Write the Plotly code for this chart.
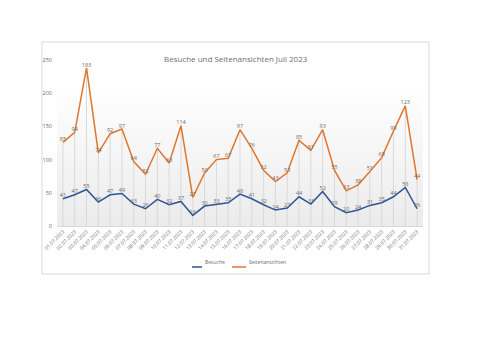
import plotly.graph_objects as go

dates = ["%02d.07.2023" % d for d in range(1, 32)]
besuche = [41, 47, 55, 36, 47, 49, 33, 26, 40, 32, 37, 16, 30, 33, 35, 48,
           41, 32, 24, 27, 44, 33, 52, 29, 20, 24, 31, 35, 44, 58, 26]
seitenansichten = [85, 94, 183, 74, 92, 97, 64, 52, 77, 63, 114, 27, 50, 67, 67, 97,
                   76, 52, 43, 53, 85, 81, 93, 55, 33, 38, 51, 68, 99, 123, 44]
yticks = [0, 50, 100, 150, 200, 250]

W, H = 500, 353
BLUE = "#2F5597"
ORANGE = "#E0762B"
GREY = "#6B6B6B"

x = list(range(1, len(dates) + 1))
totals = [a + b for a, b in zip(besuche, seitenansichten)]

def px(v):
    return v / W

def py(v):
    return 1 - v / H

fig = go.Figure()

# gradient background of plot area
fig.add_trace(go.Scatter(
    x=[0.5, len(dates) + 0.5], y=[yticks[-1], yticks[-1]], mode="lines",
    line=dict(width=0), fill="tozeroy",
    fillgradient=dict(type="vertical",
                      colorscale=[[0, "#EBEBEB"], [0.85, "#FFFFFF"], [1, "#FFFFFF"]]),
    hoverinfo="skip", showlegend=False))

# drop lines
dx, dy = [], []
for xi, t in zip(x, totals):
    dx += [xi, xi, None]
    dy += [0, t, None]
fig.add_trace(go.Scatter(x=dx, y=dy, mode="lines", line=dict(color="#D9D9D9", width=1),
                         hoverinfo="skip", showlegend=False))

fig.add_trace(go.Scatter(
    x=x, y=besuche, name="Besuche", stackgroup="one", fill="none",
    mode="lines+text", line=dict(color=BLUE, width=1.5),
    text=[str(v) for v in besuche], textposition="top center",
    textfont=dict(size=5.5, color=GREY, family="Open Sans")))
fig.add_trace(go.Scatter(
    x=x, y=seitenansichten, name="Seitenansichten", stackgroup="one", fill="none",
    mode="lines+text", line=dict(color=ORANGE, width=1.5),
    text=[str(v) for v in seitenansichten], textposition="top center",
    textfont=dict(size=5.5, color=GREY, family="Open Sans")))

fig.update_layout(
    width=W, height=H, margin=dict(l=0, r=0, t=0, b=0),
    paper_bgcolor="white", plot_bgcolor="white", showlegend=False,
    font=dict(family="Open Sans", color=GREY),
    xaxis=dict(domain=[px(57), px(423)], range=[0.5, len(dates) + 0.5],
               tickvals=x, ticktext=dates, tickangle=-45, showgrid=False,
               zeroline=False, showline=True, linecolor="#D9D9D9", linewidth=1,
               ticks="", tickfont=dict(size=5, color=GREY), automargin=False),
    yaxis=dict(domain=[py(226), py(60)], range=[0, yticks[-1]], tickvals=yticks,
               showgrid=False, zeroline=False, showline=False, ticks="",
               tickfont=dict(size=5.5, color=GREY), ticklabelstandoff=4,
               automargin=False),
)

# chart frame
fig.add_shape(type="rect", xref="paper", yref="paper",
              x0=px(42), x1=px(429), y0=py(274), y1=py(42),
              line=dict(color="#D9D9D9", width=1), layer="below")

# title
fig.add_annotation(text="Besuche und Seitenansichten Juli 2023", xref="paper", yref="paper",
                   x=px(235.5), y=py(51), showarrow=False,
                   font=dict(size=8, color="#707070", family="Open Sans"))

# legend
for x0, x1, tx, col, name in [(192, 202, 203, BLUE, "Besuche"),
                              (232, 246, 247, ORANGE, "Seitenansichten")]:
    fig.add_shape(type="line", xref="paper", yref="paper", x0=px(x0), x1=px(x1),
                  y0=py(267), y1=py(267), line=dict(color=col, width=1.5))
    fig.add_annotation(text=name, xref="paper", yref="paper", x=px(tx), y=py(267),
                       xanchor="left", showarrow=False,
                       font=dict(size=5, color=GREY, family="Open Sans"))

fig.write_html("out.html")
